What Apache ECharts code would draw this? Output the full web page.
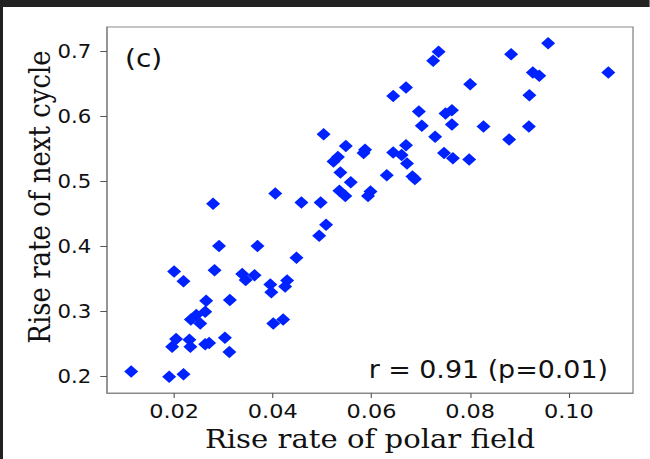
<!DOCTYPE html>
<html>
<head>
<meta charset="utf-8">
<script src="https://cdn.jsdelivr.net/npm/echarts@6/dist/echarts.min.js"></script>
<style>
html,body{margin:0;padding:0;background:#fff;overflow:hidden;}
#wrap{width:650px;height:459px;overflow:hidden;position:relative;}
#chart{position:absolute;left:0;top:0;height:459px;transform-origin:0 0;}
</style>
</head>
<body>
<div id="wrap"><div id="chart"></div></div>
<script>
// Rise rate of polar field (x) vs rise rate of next cycle (y)
const polarRate = [
  0.0113,0.0190,0.0219,0.0196,0.0204,0.0231,0.0233,0.0263,0.0271,0.0303,
  0.0312,0.0200,0.0219,0.0282,0.0265,0.0313,0.0263,0.0245,0.0234,0.0253,
  0.0291,0.0369,0.0448,0.0338,0.0345,0.0363,0.0395,0.0397,0.0429,0.0425,
  0.0401,0.0421,0.0279,0.0405,0.0458,0.0497,0.0508,0.0494,0.0503,0.0548,
  0.0587,0.0584,0.0532,0.0523,0.0537,0.0558,0.0535,0.0547,0.0598,0.0593,
  0.0631,0.0672,0.0683,0.0688,0.0670,0.0644,0.0661,0.0644,0.0670,0.0696,
  0.0702,0.0729,0.0725,0.0736,0.0763,0.0750,0.0763,0.0747,0.0765,0.0798,
  0.0800,0.0827,0.0879,0.0919,0.0920,0.0883,0.0927,0.0940,0.0958,0.1080
];
const nextCycleRate = [
  0.208,0.200,0.204,0.246,0.258,0.257,0.246,0.250,0.252,0.260,
  0.238,0.362,0.347,0.364,0.317,0.318,0.300,0.295,0.288,0.282,
  0.401,0.401,0.383,0.358,0.349,0.356,0.342,0.330,0.348,0.339,
  0.282,0.288,0.466,0.482,0.468,0.468,0.434,0.417,0.573,0.555,
  0.549,0.544,0.538,0.531,0.514,0.499,0.486,0.478,0.485,0.478,
  0.510,0.528,0.508,0.504,0.556,0.545,0.541,0.632,0.645,0.608,
  0.586,0.569,0.686,0.700,0.610,0.605,0.588,0.544,0.536,0.534,
  0.650,0.585,0.565,0.585,0.633,0.696,0.668,0.663,0.713,0.668
];
const xTicks = [0.02,0.04,0.06,0.08,0.10];
const yTicks = [0.2,0.3,0.4,0.5,0.6,0.7];
const xLabel = 'Rise rate of polar field';
const yLabel = 'Rise rate of next cycle';
const panelTag = '(c)';
const statText = 'r = 0.91 (p=0.01)';

const points = polarRate.map((x,i)=>[x,nextCycleRate[i]]);

// the reference figure is stretched horizontally; reproduce with a CSS scale
const S = 1.12;
const W = 650 / S;
const el = document.getElementById('chart');
el.style.width = W + 'px';
el.style.transform = 'scaleX(' + S + ')';
const px = v => v / S;

const chart = echarts.init(el, null, {renderer:'svg', width: W, height: 459});
const sansFont = 'DejaVu Sans';
const serifFont = 'DejaVu Serif';
chart.setOption({
  backgroundColor:'#ffffff',
  animation:false,
  grid:{left:px(107),right:px(17),top:27,bottom:66,show:true,borderColor:'#8a8a8a',borderWidth:1.2,backgroundColor:'transparent'},
  xAxis:{
    type:'value',min:0.0064,max:0.113,
    name:xLabel,nameLocation:'middle',nameGap:33,
    nameTextStyle:{fontFamily:serifFont,fontSize:26,color:'#111'},
    axisLine:{show:true,lineStyle:{color:'#8a8a8a',width:1.2}},
    axisTick:{show:true,length:5,customValues:xTicks,lineStyle:{color:'#555'}},
    axisLabel:{customValues:xTicks,margin:8,fontFamily:sansFont,fontSize:20,color:'#111',formatter:v=>v.toFixed(2)},
    splitLine:{show:false}
  },
  yAxis:{
    type:'value',min:0.175,max:0.738,
    axisLine:{show:true,lineStyle:{color:'#8a8a8a',width:1.2}},
    axisTick:{show:true,length:6,customValues:yTicks,lineStyle:{color:'#555'}},
    axisLabel:{customValues:yTicks,margin:14,fontFamily:sansFont,fontSize:19,color:'#111',formatter:v=>v.toFixed(1)},
    splitLine:{show:false}
  },
  graphic:[
    {type:'rect',shape:{x:0,y:0,width:W,height:7},style:{fill:'#222222'},silent:true},
    {type:'rect',shape:{x:0,y:0,width:px(3),height:459},style:{fill:'#222222'},silent:true},
    {type:'text',x:px(40),y:197,rotation:Math.PI/2,style:{text:yLabel,fontFamily:serifFont,fontSize:26,fill:'#111',textAlign:'center',textVerticalAlign:'middle'}},
    {type:'text',x:px(125),y:58,style:{text:panelTag,fontFamily:sansFont,fontSize:25,fill:'#111',textAlign:'left',textVerticalAlign:'middle'}},
    {type:'text',x:px(608),y:370,style:{text:statText,fontFamily:sansFont,fontSize:24,fill:'#111',textAlign:'right',textVerticalAlign:'middle'}}
  ],
  series:[{
    type:'scatter',
    data:points,
    symbol:'diamond',
    symbolSize:[12.5,12.5],
    itemStyle:{color:'#0022ff',opacity:1},
    z:3
  }]
});
</script>
</body>
</html>
